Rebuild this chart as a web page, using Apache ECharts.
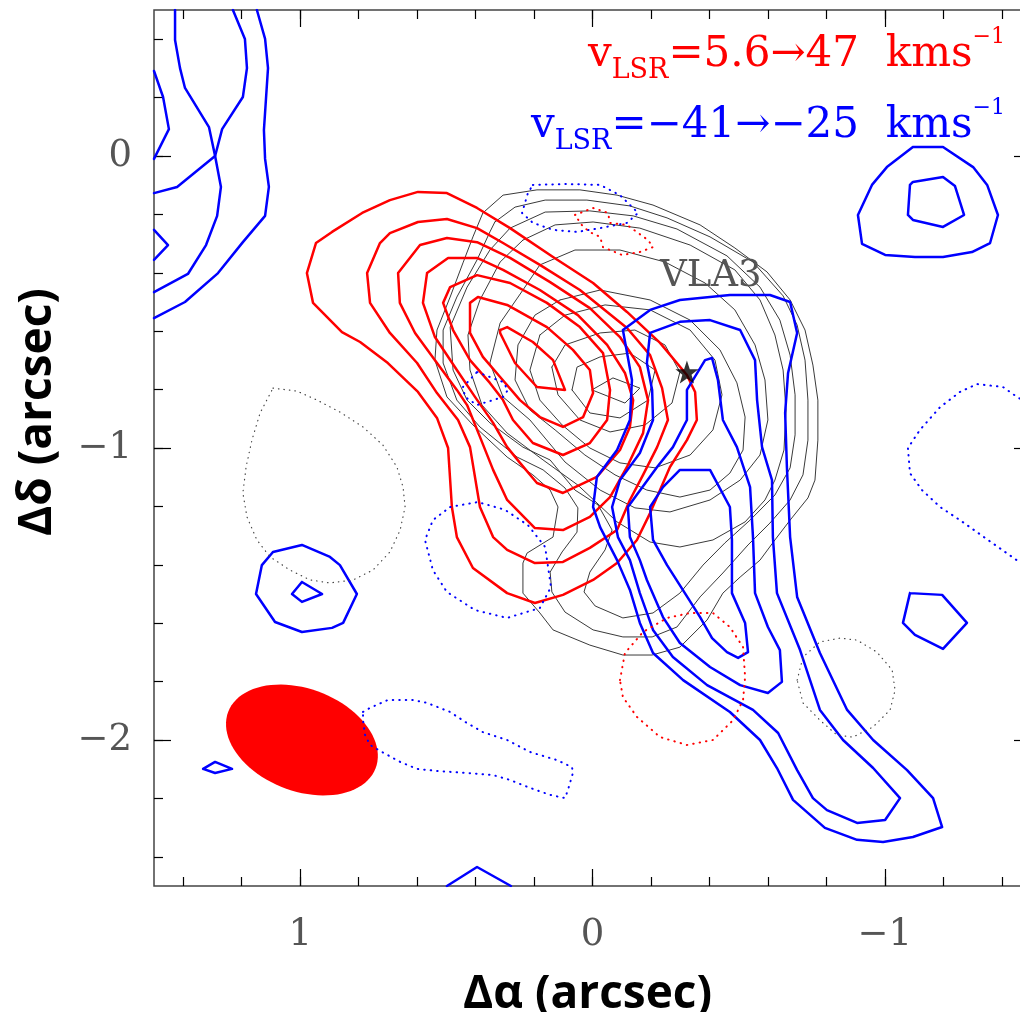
<!DOCTYPE html>
<html><head><meta charset="utf-8">
<script src="https://cdn.jsdelivr.net/npm/echarts@6.0.0/dist/echarts.min.js"></script>
<style>html,body{margin:0;padding:0;background:#fff}#c{width:1020px;height:1012px}</style>
</head><body><div id="c"></div>
<script>
// ---- tick values ----
const xMinorTicks = [-1.4,-1.2,-1.0,-0.8,-0.6,-0.4,-0.2,0,0.2,0.4,0.6,0.8,1.0,1.2,1.4];
const xMajorTicks = [-1,0,1];
const yMinorTicks = [-2.4,-2.2,-2.0,-1.8,-1.6,-1.4,-1.2,-1.0,-0.8,-0.6,-0.4,-0.2,0,0.2,0.4];
const yMajorTicks = [-2,-1,0];

// ---- red (redshifted) contours ----
const redC1 = [[0.946,-0.298],[0.891,-0.260],[0.788,-0.195],[0.693,-0.151],[0.597,-0.123],[0.498,-0.127],[0.395,-0.178],[0.282,-0.247],[0.135,-0.346],[-0.002,-0.435],[-0.118,-0.534],[-0.231,-0.640],[-0.323,-0.750],[-0.351,-0.808],[-0.357,-0.904],[-0.323,-0.973],[-0.265,-1.065],[-0.197,-1.223],[-0.152,-1.315],[-0.084,-1.394],[-0.002,-1.452],[0.101,-1.503],[0.197,-1.531],[0.292,-1.497],[0.409,-1.411],[0.464,-1.305],[0.481,-1.202],[0.494,-1.000],[0.532,-0.897],[0.597,-0.808],[0.700,-0.709],[0.795,-0.637],[0.857,-0.603],[0.956,-0.503],[0.977,-0.401],[0.946,-0.298]];
const redC2 = [[0.727,-0.298],[0.693,-0.264],[0.597,-0.226],[0.498,-0.216],[0.395,-0.247],[0.306,-0.298],[0.180,-0.373],[0.043,-0.459],[-0.118,-0.589],[-0.197,-0.682],[-0.238,-0.795],[-0.258,-0.904],[-0.221,-0.997],[-0.173,-1.092],[-0.128,-1.178],[-0.084,-1.281],[0.009,-1.342],[0.101,-1.390],[0.197,-1.394],[0.292,-1.349],[0.340,-1.305],[0.385,-1.202],[0.419,-0.997],[0.460,-0.904],[0.532,-0.812],[0.600,-0.709],[0.693,-0.606],[0.761,-0.503],[0.771,-0.401],[0.727,-0.298]];
const redC3 = [[0.665,-0.401],[0.590,-0.305],[0.498,-0.281],[0.395,-0.295],[0.282,-0.349],[0.145,-0.432],[0.009,-0.521],[-0.094,-0.620],[-0.162,-0.723],[-0.190,-0.836],[-0.173,-0.949],[-0.118,-1.065],[-0.060,-1.168],[0.009,-1.236],[0.101,-1.281],[0.197,-1.274],[0.292,-1.178],[0.340,-1.075],[0.385,-0.962],[0.429,-0.853],[0.464,-0.801],[0.532,-0.709],[0.607,-0.606],[0.659,-0.503],[0.665,-0.401]];
const redC4 = [[0.566,-0.401],[0.494,-0.349],[0.395,-0.349],[0.306,-0.390],[0.180,-0.459],[0.050,-0.545],[-0.050,-0.647],[-0.111,-0.743],[-0.139,-0.836],[-0.128,-0.928],[-0.094,-1.007],[-0.015,-1.099],[0.101,-1.154],[0.190,-1.120],[0.248,-1.051],[0.292,-0.997],[0.340,-0.914],[0.402,-0.825],[0.464,-0.733],[0.539,-0.620],[0.580,-0.503],[0.566,-0.401]];
const redC5 = [[0.511,-0.503],[0.487,-0.449],[0.395,-0.408],[0.282,-0.435],[0.156,-0.503],[0.043,-0.586],[-0.036,-0.675],[-0.060,-0.801],[-0.050,-0.904],[0.009,-0.983],[0.101,-1.024],[0.204,-0.983],[0.272,-0.904],[0.306,-0.836],[0.351,-0.777],[0.419,-0.699],[0.477,-0.596],[0.511,-0.503]];
const redC6 = [[0.419,-0.503],[0.392,-0.483],[0.292,-0.510],[0.156,-0.586],[0.067,-0.664],[0.009,-0.733],[-0.002,-0.812],[0.032,-0.894],[0.101,-0.928],[0.180,-0.894],[0.248,-0.836],[0.316,-0.757],[0.375,-0.688],[0.419,-0.606],[0.419,-0.503]];
const redC7 = [[0.316,-0.596],[0.292,-0.586],[0.204,-0.637],[0.135,-0.699],[0.094,-0.801],[0.190,-0.791],[0.265,-0.709],[0.316,-0.606],[0.316,-0.596]];

// ---- grey (continuum) contours ----
const grayC10 = [[0.375,-0.195],[0.306,-0.134],[0.190,-0.116],[0.043,-0.116],[-0.084,-0.134],[-0.207,-0.168],[-0.368,-0.236],[-0.487,-0.315],[-0.597,-0.397],[-0.676,-0.493],[-0.727,-0.596],[-0.754,-0.716],[-0.771,-0.836],[-0.771,-0.973],[-0.761,-1.110],[-0.737,-1.171],[-0.676,-1.247],[-0.624,-1.315],[-0.573,-1.384],[-0.505,-1.442],[-0.446,-1.497],[-0.392,-1.589],[-0.299,-1.682],[-0.204,-1.709],[-0.104,-1.709],[0.009,-1.675],[0.135,-1.623],[0.180,-1.565],[0.238,-1.497],[0.238,-1.394],[0.224,-1.360],[0.135,-1.305],[0.118,-1.202],[0.145,-1.144],[0.204,-1.092],[0.292,-1.031],[0.409,-0.921],[0.498,-0.825],[0.539,-0.699],[0.532,-0.596],[0.487,-0.483],[0.443,-0.366],[0.409,-0.277],[0.375,-0.195]];
const grayC9 = [[0.334,-0.226],[0.265,-0.175],[0.162,-0.151],[0.019,-0.151],[-0.128,-0.171],[-0.255,-0.212],[-0.402,-0.277],[-0.549,-0.363],[-0.652,-0.479],[-0.700,-0.579],[-0.727,-0.699],[-0.737,-0.836],[-0.737,-0.973],[-0.720,-1.092],[-0.676,-1.178],[-0.607,-1.257],[-0.532,-1.332],[-0.446,-1.428],[-0.368,-1.510],[-0.289,-1.613],[-0.204,-1.647],[-0.104,-1.647],[-0.002,-1.623],[0.094,-1.562],[0.139,-1.493],[0.145,-1.425],[0.104,-1.356],[0.053,-1.288],[0.050,-1.205],[0.094,-1.137],[0.169,-1.075],[0.258,-1.031],[0.385,-0.928],[0.464,-0.836],[0.511,-0.709],[0.511,-0.596],[0.464,-0.483],[0.395,-0.356],[0.351,-0.260],[0.334,-0.226]];
const grayC8 = [[0.282,-0.247],[0.162,-0.192],[0.009,-0.188],[-0.139,-0.205],[-0.289,-0.250],[-0.460,-0.342],[-0.573,-0.449],[-0.641,-0.562],[-0.676,-0.682],[-0.693,-0.818],[-0.693,-0.955],[-0.676,-1.068],[-0.624,-1.161],[-0.539,-1.247],[-0.453,-1.325],[-0.378,-1.401],[-0.299,-1.497],[-0.207,-1.565],[-0.104,-1.582],[-0.009,-1.541],[0.029,-1.493],[0.009,-1.425],[-0.043,-1.349],[-0.067,-1.281],[-0.019,-1.195],[0.060,-1.144],[0.145,-1.041],[0.238,-0.997],[0.351,-0.914],[0.429,-0.836],[0.477,-0.733],[0.487,-0.586],[0.429,-0.449],[0.351,-0.322],[0.282,-0.247]];
const grayC7 = [[0.238,-0.288],[0.128,-0.236],[-0.002,-0.226],[-0.162,-0.247],[-0.334,-0.305],[-0.487,-0.390],[-0.573,-0.493],[-0.624,-0.613],[-0.652,-0.733],[-0.662,-0.870],[-0.655,-1.007],[-0.624,-1.110],[-0.590,-1.178],[-0.522,-1.253],[-0.412,-1.315],[-0.299,-1.339],[-0.197,-1.322],[-0.084,-1.253],[0.050,-1.127],[0.169,-1.041],[0.292,-0.949],[0.378,-0.853],[0.419,-0.733],[0.426,-0.613],[0.385,-0.493],[0.316,-0.363],[0.238,-0.288]];
const grayC6 = [[0.180,-0.373],[0.060,-0.322],[-0.094,-0.322],[-0.248,-0.363],[-0.385,-0.435],[-0.487,-0.527],[-0.556,-0.647],[-0.590,-0.767],[-0.600,-0.904],[-0.573,-1.024],[-0.505,-1.110],[-0.402,-1.178],[-0.265,-1.219],[-0.145,-1.205],[-0.026,-1.144],[0.094,-1.048],[0.214,-0.904],[0.306,-0.825],[0.351,-0.709],[0.316,-0.572],[0.238,-0.459],[0.180,-0.373]];
const grayC5 = [[0.111,-0.493],[-0.026,-0.459],[-0.197,-0.493],[-0.334,-0.562],[-0.436,-0.664],[-0.494,-0.777],[-0.522,-0.894],[-0.515,-1.007],[-0.470,-1.086],[-0.402,-1.144],[-0.299,-1.168],[-0.186,-1.144],[-0.077,-1.092],[0.026,-1.024],[0.128,-0.938],[0.214,-0.870],[0.265,-0.767],[0.255,-0.647],[0.197,-0.545],[0.111,-0.493]];
const grayC4 = [[0.180,-0.613],[0.094,-0.545],[-0.043,-0.510],[-0.197,-0.527],[-0.334,-0.596],[-0.419,-0.699],[-0.443,-0.818],[-0.412,-0.938],[-0.334,-1.024],[-0.214,-1.068],[-0.094,-1.051],[0.009,-1.000],[0.104,-0.921],[0.180,-0.836],[0.214,-0.733],[0.180,-0.613]];
const grayC3 = [[0.139,-0.723],[0.094,-0.647],[-0.026,-0.606],[-0.145,-0.596],[-0.248,-0.647],[-0.299,-0.740],[-0.272,-0.846],[-0.180,-0.921],[-0.060,-0.945],[0.043,-0.904],[0.118,-0.818],[0.139,-0.723]];
const grayC2 = [[0.070,-0.801],[0.053,-0.723],[-0.026,-0.688],[-0.128,-0.675],[-0.214,-0.733],[-0.190,-0.836],[-0.094,-0.897],[0.009,-0.880],[0.070,-0.801]];
const grayC1 = [[0.002,-0.801],[-0.070,-0.760],[-0.162,-0.795],[-0.111,-0.846],[0.002,-0.801]];

// ---- blue (blueshifted) contours ----
const blueC1 = [[-0.104,-0.596],[-0.197,-0.527],[-0.299,-0.493],[-0.470,-0.476],[-0.607,-0.476],[-0.676,-0.500],[-0.700,-0.606],[-0.669,-0.743],[-0.659,-0.880],[-0.665,-1.065],[-0.676,-1.305],[-0.700,-1.510],[-0.778,-1.702],[-0.871,-1.897],[-0.960,-2.000],[-1.076,-2.103],[-1.165,-2.199],[-1.196,-2.298],[-1.096,-2.332],[-0.994,-2.349],[-0.905,-2.342],[-0.795,-2.301],[-0.686,-2.205],[-0.631,-2.096],[-0.573,-2.000],[-0.470,-1.904],[-0.310,-1.795],[-0.207,-1.702],[-0.162,-1.599],[-0.128,-1.486],[-0.084,-1.384],[-0.026,-1.271],[-0.002,-1.202],[-0.015,-1.099],[-0.084,-1.007],[-0.128,-0.904],[-0.135,-0.767],[-0.104,-0.596]];
const blueC2 = [[-0.197,-0.606],[-0.299,-0.568],[-0.402,-0.562],[-0.505,-0.596],[-0.556,-0.699],[-0.563,-0.836],[-0.580,-0.997],[-0.614,-1.110],[-0.617,-1.305],[-0.631,-1.497],[-0.710,-1.692],[-0.778,-1.897],[-0.857,-2.000],[-0.960,-2.096],[-1.052,-2.199],[-1.001,-2.274],[-0.905,-2.284],[-0.802,-2.240],[-0.754,-2.199],[-0.700,-2.103],[-0.635,-1.976],[-0.549,-1.897],[-0.392,-1.812],[-0.275,-1.716],[-0.207,-1.623],[-0.162,-1.497],[-0.128,-1.384],[-0.087,-1.305],[-0.067,-1.202],[-0.094,-1.110],[-0.162,-1.017],[-0.207,-0.904],[-0.204,-0.801],[-0.186,-0.709],[-0.197,-0.606]];
const blueC3 = [[-0.323,-0.801],[-0.385,-0.699],[-0.409,-0.692],[-0.429,-0.767],[-0.446,-0.904],[-0.494,-0.997],[-0.539,-1.134],[-0.549,-1.305],[-0.556,-1.497],[-0.600,-1.613],[-0.641,-1.692],[-0.648,-1.801],[-0.600,-1.839],[-0.505,-1.812],[-0.402,-1.750],[-0.299,-1.668],[-0.241,-1.579],[-0.186,-1.452],[-0.162,-1.384],[-0.128,-1.305],[-0.121,-1.202],[-0.156,-1.154],[-0.221,-1.065],[-0.275,-0.997],[-0.323,-0.904],[-0.323,-0.801]];
const blueC4 = [[-0.197,-1.202],[-0.207,-1.315],[-0.255,-1.401],[-0.316,-1.497],[-0.368,-1.579],[-0.409,-1.651],[-0.460,-1.699],[-0.498,-1.719],[-0.532,-1.699],[-0.522,-1.599],[-0.477,-1.497],[-0.477,-1.315],[-0.470,-1.202],[-0.402,-1.075],[-0.299,-1.075],[-0.241,-1.134],[-0.197,-1.202]];
const blueTR1 = [[-1.096,0.031],[-1.199,0.031],[-1.302,-0.038],[-1.350,-0.099],[-1.387,-0.202],[-1.360,-0.298],[-1.298,-0.329],[-1.199,-0.346],[-1.103,-0.346],[-1.001,-0.339],[-0.922,-0.301],[-0.908,-0.202],[-0.956,-0.099],[-1.007,-0.038],[-1.096,0.031]];
const blueTR2 = [[-1.096,-0.089],[-1.199,-0.072],[-1.240,-0.103],[-1.271,-0.202],[-1.199,-0.243],[-1.096,-0.219],[-1.079,-0.202],[-1.086,-0.099],[-1.096,-0.089]];
const blueML1 = [[1.093,-1.356],[0.994,-1.332],[0.898,-1.373],[0.864,-1.401],[0.806,-1.500],[0.853,-1.599],[0.891,-1.616],[0.994,-1.630],[1.086,-1.596],[1.151,-1.500],[1.131,-1.401],[1.093,-1.356]];
const blueML2 = [[0.994,-1.459],[0.925,-1.500],[0.994,-1.527],[1.028,-1.500],[0.994,-1.459]];
const blueBL = [[1.332,-2.099],[1.291,-2.075],[1.233,-2.099],[1.291,-2.113],[1.332,-2.099]];
const blueMR = [[-1.086,-1.497],[-1.196,-1.503],[-1.281,-1.599],[-1.199,-1.688],[-1.103,-1.640],[-1.062,-1.599],[-1.086,-1.497]];
const blueBot = [[0.498,-2.5],[0.395,-2.435],[0.279,-2.5]];
const blueTL1 = [[1.428,0.5],[1.428,0.397],[1.411,0.301],[1.394,0.233],[1.312,0.099],[1.291,0],[1.271,-0.106],[1.284,-0.205],[1.322,-0.305],[1.384,-0.404],[1.5,-0.466]];
const blueTL2 = [[1.230,0.5],[1.189,0.401],[1.182,0.301],[1.196,0.202],[1.267,0.092],[1.291,0],[1.421,-0.106],[1.5,-0.127]];
const blueTL3 = [[1.148,0.5],[1.120,0.401],[1.110,0.301],[1.124,0.089],[1.120,-0.010],[1.107,-0.106],[1.120,-0.205],[1.196,-0.295],[1.281,-0.401],[1.394,-0.500],[1.5,-0.555]];
const blueTL4 = [[1.5,0.291],[1.469,0.202],[1.449,0.092],[1.5,-0.010]];
const blueTL5 = [[1.5,-0.253],[1.452,-0.305],[1.5,-0.356]];

// ---- negative (dotted) contours ----
const blueDotTop = [[0.204,-0.099],[0.087,-0.096],[-0.026,-0.099],[-0.094,-0.134],[-0.156,-0.195],[-0.118,-0.229],[-0.026,-0.247],[0.053,-0.260],[0.135,-0.253],[0.204,-0.229],[0.241,-0.195],[0.221,-0.127],[0.204,-0.099]];
const blueDotSmall = [[0.395,-0.740],[0.306,-0.774],[0.289,-0.801],[0.306,-0.825],[0.395,-0.853],[0.436,-0.825],[0.443,-0.791],[0.395,-0.740]];
const blueDotMid = [[0.487,-1.202],[0.392,-1.185],[0.299,-1.212],[0.221,-1.264],[0.162,-1.339],[0.142,-1.476],[0.180,-1.548],[0.292,-1.582],[0.402,-1.555],[0.498,-1.493],[0.546,-1.418],[0.573,-1.315],[0.546,-1.247],[0.487,-1.202]];
const blueDotLow = [[0.785,-1.904],[0.761,-1.890],[0.700,-1.863],[0.614,-1.863],[0.566,-1.873],[0.487,-1.904],[0.436,-1.938],[0.375,-1.973],[0.292,-2.000],[0.214,-2.041],[0.121,-2.069],[0.070,-2.093],[0.067,-2.113],[0.084,-2.171],[0.094,-2.199],[0.145,-2.188],[0.214,-2.164],[0.282,-2.137],[0.340,-2.120],[0.429,-2.113],[0.532,-2.106],[0.600,-2.099],[0.658,-2.075],[0.720,-2.041],[0.761,-2.017],[0.778,-1.983],[0.785,-1.932],[0.785,-1.904]];
const blueDotRight = [[-1.5,-0.853],[-1.452,-0.825],[-1.404,-0.791],[-1.315,-0.781],[-1.257,-0.808],[-1.189,-0.860],[-1.120,-0.938],[-1.079,-1.000],[-1.086,-1.086],[-1.127,-1.144],[-1.189,-1.202],[-1.257,-1.247],[-1.343,-1.308],[-1.411,-1.356],[-1.5,-1.418]];
const redDotTop = [[0.060,-0.202],[-0.002,-0.178],[-0.053,-0.195],[-0.060,-0.229],[-0.118,-0.236],[-0.190,-0.288],[-0.207,-0.312],[-0.162,-0.329],[-0.101,-0.339],[-0.036,-0.312],[-0.026,-0.277],[0.002,-0.264],[0.032,-0.243],[0.060,-0.202]];
const redDotLow = [[-0.094,-1.795],[-0.111,-1.702],[-0.173,-1.630],[-0.255,-1.582],[-0.334,-1.565],[-0.412,-1.565],[-0.470,-1.613],[-0.515,-1.682],[-0.522,-1.784],[-0.515,-1.863],[-0.481,-1.932],[-0.412,-2.000],[-0.323,-2.017],[-0.231,-1.990],[-0.152,-1.921],[-0.104,-1.853],[-0.094,-1.795]];
const grayDotRight = [[-0.700,-1.795],[-0.720,-1.716],[-0.778,-1.664],[-0.847,-1.651],[-0.905,-1.658],[-0.973,-1.699],[-1.025,-1.760],[-1.035,-1.829],[-1.018,-1.897],[-0.960,-1.955],[-0.891,-1.990],[-0.836,-1.983],[-0.778,-1.932],[-0.720,-1.873],[-0.700,-1.795]];
const grayDotLeft = [[1.093,-0.795],[1.011,-0.805],[0.942,-0.836],[0.864,-0.877],[0.785,-0.928],[0.717,-0.990],[0.669,-1.065],[0.648,-1.134],[0.641,-1.202],[0.658,-1.281],[0.693,-1.356],[0.751,-1.418],[0.819,-1.452],[0.898,-1.462],[0.966,-1.452],[1.035,-1.418],[1.103,-1.373],[1.148,-1.315],[1.182,-1.236],[1.196,-1.154],[1.185,-1.065],[1.165,-0.973],[1.137,-0.880],[1.093,-0.795]];

// ---- markers ----
const starPos = [[-0.323,-0.740]];
const beamCenter = [[0.994,-2.0]];
const beamMajor = 0.54, beamMinor = 0.35, beamPA = 69; // arcsec, arcsec, deg

const chart = echarts.init(document.getElementById('c'));
function fmt(v){ return v < 0 ? '\u2212' + Math.abs(v) : String(v); }
const tickLine = {color:'#000', width:1.2};
const noLine = {show:false, onZero:false};
const xBase = {type:'value', gridIndex:0, min:-1.5, max:1.5, inverse:true, splitLine:{show:false}, axisLine:noLine};
const yBase = {type:'value', gridIndex:0, min:-2.5, max:0.5, splitLine:{show:false}, axisLine:noLine};
const tickFont = {fontFamily:'DejaVu Serif', fontSize:37, color:'#555'};
const titleFont = {fontFamily:'Open Sans', fontWeight:'bold', fontSize:46, color:'#000'};

function ln(data, color, width, type, z){
  return {type:'line', xAxisIndex:0, yAxisIndex:0, data:data, symbol:'none', showSymbol:false, silent:true,
    animation:false, clip:true, z:z, lineStyle:{color:color, width:width, type:type, cap:'round', join:'round'}};
}
const series = [];
[grayC10,grayC9,grayC8,grayC7,grayC6,grayC5,grayC4,grayC3,grayC2,grayC1].forEach(d=>series.push(ln(d,'#3a3a3a',1,'solid',2)));
[redC1,redC2,redC3,redC4,redC5,redC6,redC7].forEach(d=>series.push(ln(d,'#ff0000',2.5,'solid',3)));
[blueC1,blueC2,blueC3,blueC4,blueTR1,blueTR2,blueML1,blueML2,blueBL,blueMR,blueBot,blueTL1,blueTL2,blueTL3,blueTL4,blueTL5].forEach(d=>series.push(ln(d,'#0000ff',2.5,'solid',4)));
[blueDotTop,blueDotSmall,blueDotMid,blueDotLow,blueDotRight].forEach(d=>series.push(ln(d,'#0000ff',2,[0.5,6],5)));
[redDotTop,redDotLow].forEach(d=>series.push(ln(d,'#ff0000',2,[0.5,6],5)));
[grayDotRight,grayDotLeft].forEach(d=>series.push(ln(d,'#444',1.2,[0.5,5],5)));
series.push({type:'custom', xAxisIndex:0, yAxisIndex:0, data:beamCenter, z:1, silent:true, animation:false,
  renderItem:function(params, api){
    const c = api.coord([api.value(0), api.value(1)]);
    const a = api.size([beamMajor/2, 0])[0];
    const b = api.size([0, beamMinor/2])[1];
    const th = (90 - beamPA) * Math.PI / 180;
    const pts = [];
    for (let i = 0; i < 90; i++){
      const t = i / 90 * 2 * Math.PI;
      pts.push([c[0] + a*Math.cos(t)*Math.cos(th) - b*Math.sin(t)*Math.sin(th),
                c[1] + a*Math.cos(t)*Math.sin(th) + b*Math.sin(t)*Math.cos(th)]);
    }
    return {type:'polygon', shape:{points:pts}, style:{fill:'#ff0000'}};
  }});
series.push({type:'scatter', xAxisIndex:0, yAxisIndex:0, data:starPos, z:10, silent:true, animation:false,
  symbol:'path://M0,-10L2.35,-3.24L9.51,-3.09L3.8,1.24L5.88,8.09L0,4L-5.88,8.09L-3.8,1.24L-9.51,-3.09L-2.35,-3.24Z',
  symbolSize:23, itemStyle:{color:'#000'}});

const option = {
  animation:false,
  backgroundColor:'#fff',
  grid:[{left:154, top:10, width:877, height:876, show:true, borderColor:'#444', borderWidth:1.5, backgroundColor:'rgba(0,0,0,0)', containLabel:false, outerBoundsMode:'none'}],
  xAxis:[
    Object.assign({}, xBase, {position:'bottom', axisTick:{show:false}, axisLabel:{show:false}}),
    Object.assign({}, xBase, {position:'bottom', axisLabel:{show:false}, axisTick:{show:true, inside:true, length:9, customValues:xMinorTicks, lineStyle:tickLine}}),
    Object.assign({}, xBase, {position:'top', axisLabel:{show:false}, axisTick:{show:true, inside:true, length:9, customValues:xMinorTicks, lineStyle:tickLine}}),
    Object.assign({}, xBase, {position:'bottom', axisTick:{show:true, inside:true, length:17, customValues:xMajorTicks, lineStyle:tickLine},
      axisLabel:Object.assign({show:true, customValues:xMajorTicks, formatter:fmt, margin:31}, tickFont),
      name:'\u0394\u03b1 (arcsec)', nameLocation:'middle', nameGap:86, nameMoveOverlap:false,
      nameTextStyle:Object.assign({padding:[0,10,0,0]}, titleFont)}),
    Object.assign({}, xBase, {position:'top', axisLabel:{show:false}, axisTick:{show:true, inside:true, length:17, customValues:xMajorTicks, lineStyle:tickLine}})
  ],
  yAxis:[
    Object.assign({}, yBase, {position:'left', axisTick:{show:false}, axisLabel:{show:false}}),
    Object.assign({}, yBase, {position:'left', axisLabel:{show:false}, axisTick:{show:true, inside:true, length:9, customValues:yMinorTicks, lineStyle:tickLine}}),
    Object.assign({}, yBase, {position:'right', axisLabel:{show:false}, axisTick:{show:true, inside:true, length:9, customValues:yMinorTicks, lineStyle:tickLine}}),
    Object.assign({}, yBase, {position:'left', axisTick:{show:true, inside:true, length:17, customValues:yMajorTicks, lineStyle:tickLine},
      axisLabel:Object.assign({show:true, customValues:yMajorTicks, formatter:fmt, margin:22}, tickFont),
      name:'\u0394\u03b4 (arcsec)', nameLocation:'middle', nameGap:93, nameRotate:90, nameMoveOverlap:false,
      nameTextStyle:Object.assign({padding:[0,0,0,72]}, titleFont)}),
    Object.assign({}, yBase, {position:'right', axisLabel:{show:false}, axisTick:{show:true, inside:true, length:17, customValues:yMajorTicks, lineStyle:tickLine}})
  ],
  graphic:[
    {type:'text', z:100, silent:true, style:{x:1005, y:26, align:'right', textAlign:'right', verticalAlign:'top', textVerticalAlign:'top',
      text:'{m|v}{s|LSR}{m|=5.6\u219247  kms}{p|\u22121}',
      rich:{m:{fontFamily:'DejaVu Serif', fontSize:42, lineHeight:58, fill:'#ff0000', color:'#ff0000'},
            s:{fontFamily:'DejaVu Serif', fontSize:27, lineHeight:27, verticalAlign:'bottom', fill:'#ff0000', color:'#ff0000'},
            p:{fontFamily:'DejaVu Serif', fontSize:22, lineHeight:20, verticalAlign:'top', fill:'#ff0000', color:'#ff0000'}}}},
    {type:'text', z:100, silent:true, style:{x:1005, y:97, align:'right', textAlign:'right', verticalAlign:'top', textVerticalAlign:'top',
      text:'{m|v}{s|LSR}{m|=\u221241\u2192\u221225  kms}{p|\u22121}',
      rich:{m:{fontFamily:'DejaVu Serif', fontSize:42, lineHeight:58, fill:'#0000ff', color:'#0000ff'},
            s:{fontFamily:'DejaVu Serif', fontSize:27, lineHeight:27, verticalAlign:'bottom', fill:'#0000ff', color:'#0000ff'},
            p:{fontFamily:'DejaVu Serif', fontSize:22, lineHeight:20, verticalAlign:'top', fill:'#0000ff', color:'#0000ff'}}}},
    {type:'text', z:100, silent:true, style:{x:660, y:276, align:'left', textAlign:'left', verticalAlign:'middle', textVerticalAlign:'middle',
      text:'VLA3', fontFamily:'DejaVu Serif', fontSize:37, fill:'#555'}}
  ],
  series:series
};
chart.setOption(option);
</script></body></html>
